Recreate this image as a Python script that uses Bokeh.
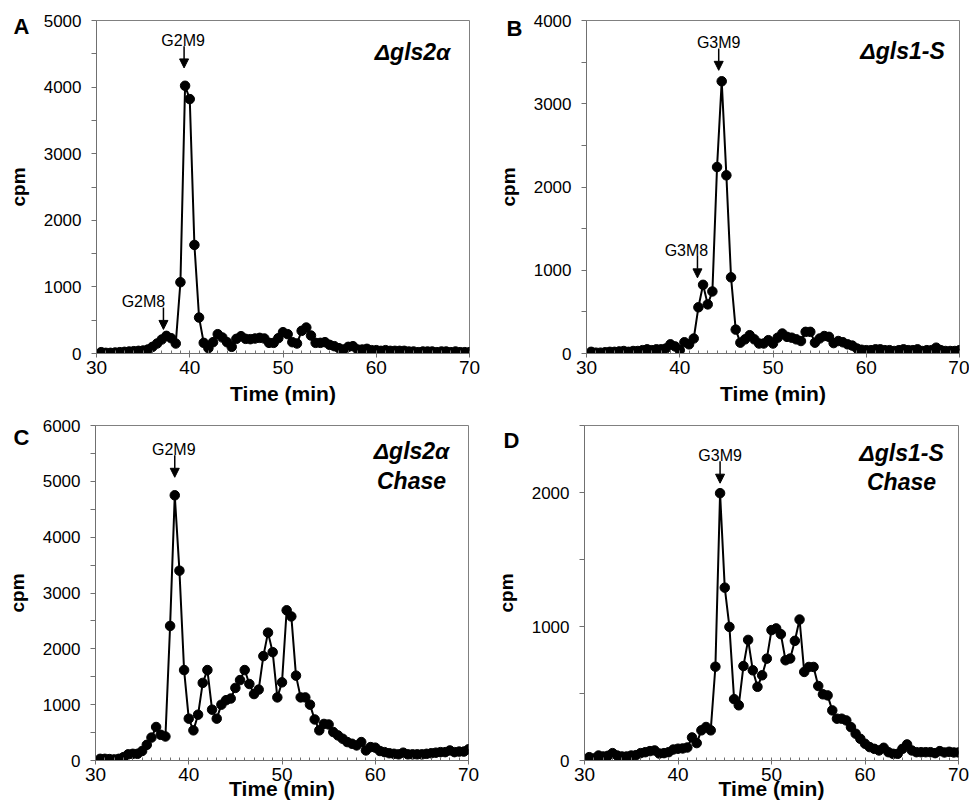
from bokeh.plotting import figure
from bokeh.layouts import column, row
from bokeh.models import Range1d, FixedTicker, Label, Arrow, NormalHead, ColumnDataSource
from bokeh.embed import file_html
from bokeh.resources import INLINE

# ---------------- data ----------------
time_min = [
    30.5, 31.0, 31.5, 32.0, 32.5, 33.0, 33.5, 34.0, 34.5, 35.0,
    35.5, 36.0, 36.5, 37.0, 37.5, 38.0, 38.5, 39.0, 39.5, 40.0,
    40.5, 41.0, 41.5, 42.0, 42.5, 43.0, 43.5, 44.0, 44.5, 45.0,
    45.5, 46.0, 46.5, 47.0, 47.5, 48.0, 48.5, 49.0, 49.5, 50.0,
    50.5, 51.0, 51.5, 52.0, 52.5, 53.0, 53.5, 54.0, 54.5, 55.0,
    55.5, 56.0, 56.5, 57.0, 57.5, 58.0, 58.5, 59.0, 59.5, 60.0,
    60.5, 61.0, 61.5, 62.0, 62.5, 63.0, 63.5, 64.0, 64.5, 65.0,
    65.5, 66.0, 66.5, 67.0, 67.5, 68.0, 68.5, 69.0, 69.5, 70.0,
]

# A: delta-gls2alpha (pulse)
gls2a_pulse = [
    20, 10, 10, 15, 20, 25, 30, 35, 40, 45,
    60, 100, 150, 210, 265, 230, 150, 1070, 4020, 3820,
    1630, 540, 160, 80, 170, 290, 240, 170, 100, 220,
    260, 220, 215, 225, 235, 225, 160, 160, 230, 320,
    290, 170, 150, 340, 390, 270, 160, 160, 170, 130,
    110, 80, 60, 100, 110, 60, 60, 70, 50, 50,
    40, 50, 40, 40, 40, 40, 30, 30, 20, 30,
    30, 30, 20, 30, 30, 20, 30, 20, 20, 20,
]

# B: delta-gls1-S (pulse)
gls1s_pulse = [
    20, 10, 10, 15, 20, 20, 25, 30, 20, 30,
    30, 40, 50, 40, 50, 50, 60, 110, 85, 40,
    135, 110, 180, 555, 825, 590, 745, 2240, 3270, 2140,
    915, 287, 130, 170, 220, 170, 120, 120, 160, 120,
    190, 240, 200, 190, 170, 150, 260, 260, 130, 180,
    210, 200, 125, 150, 135, 110, 95, 60, 45, 40,
    40, 50, 50, 40, 40, 30, 40, 50, 40, 40,
    50, 30, 40, 40, 70, 40, 30, 30, 30, 40,
]

# C: delta-gls2alpha chase
gls2a_chase = [
    30, 30, 25, 20, 30, 60, 110, 120, 120, 170,
    280, 410, 600, 460, 430, 2410, 4750, 3400, 1620, 750,
    540, 820, 1390, 1620, 910, 750, 1000, 1080, 1110, 1300,
    1440, 1620, 1370, 1190, 1270, 1870, 2290, 1940, 1130, 1400,
    2690, 2580, 1520, 1130, 1130, 1000, 735, 540, 655, 645,
    510, 450, 390, 330, 300, 270, 330, 180, 240, 230,
    170, 150, 130, 120, 110, 140, 110, 110, 110, 110,
    120, 130, 140, 150, 150, 180, 150, 160, 160, 200,
]

# D: delta-gls1-S chase
gls1s_chase = [
    25, 15, 37, 30, 35, 55, 37, 30, 30, 37,
    40, 55, 62, 70, 75, 52, 55, 62, 82, 88,
    90, 97, 172, 130, 225, 250, 225, 700, 1995, 1290,
    997, 458, 412, 705, 900, 673, 550, 636, 760, 973,
    986, 943, 748, 761, 893, 1052, 661, 698, 698, 556,
    494, 486, 374, 312, 312, 299, 249, 200, 162, 125,
    100, 87, 75, 95, 62, 50, 50, 87, 120, 75,
    62, 62, 62, 62, 55, 70, 60, 65, 60, 60,
]

x_ticks = [30, 40, 50, 60, 70]
x_minor_ticks = list(range(30, 71))
y_ticks_A = [0, 1000, 2000, 3000, 4000, 5000]
y_ticks_B = [0, 1000, 2000, 3000, 4000]
y_ticks_C = [0, 1000, 2000, 3000, 4000, 5000, 6000]
y_ticks_D = [0, 1000, 2000]

FONT = "Liberation Sans"
GRAY = "#707070"


def make_panel(values, ymax, yticks, letter, strain_lines, annots,
               fw, fh, bl, br, bt, bb, letter_off, strain_base, xlabel_standoff):
    p = figure(width=fw, height=fh, x_range=Range1d(30, 70), y_range=Range1d(0, ymax),
               output_backend="svg", toolbar_location=None,
               min_border_left=bl, min_border_right=br, min_border_top=bt, min_border_bottom=bb,
               background_fill_color="white", border_fill_color="white",
               outline_line_color="#808080", outline_line_width=1)
    frame_w = fw - bl - br
    frame_h = fh - bt - bb
    ux = 40.0 / frame_w
    uy = ymax / frame_h
    p.grid.visible = False

    src = ColumnDataSource(dict(t=time_min, v=values))
    p.line("t", "v", source=src, line_color="black", line_width=2)
    p.scatter("t", "v", source=src, size=9.5, fill_color="black", line_color="black")

    xa = p.xaxis[0]
    xa.ticker = FixedTicker(ticks=x_ticks, minor_ticks=x_minor_ticks)
    xa.major_tick_in = 0
    xa.major_tick_out = 4
    xa.minor_tick_in = 3
    xa.minor_tick_out = 0
    xa.major_label_text_font = FONT
    xa.major_label_text_font_size = "19px"
    xa.major_label_text_color = "black"
    xa.major_label_standoff = 3
    xa.axis_line_color = GRAY
    xa.major_tick_line_color = GRAY
    xa.minor_tick_line_color = GRAY
    xa.axis_label = "Time (min)"
    xa.axis_label_text_font = FONT
    xa.axis_label_text_font_style = "bold"
    xa.axis_label_text_font_size = "21px"
    xa.axis_label_text_color = "black"
    xa.axis_label_standoff = xlabel_standoff

    minor_y = [v + 500 for v in yticks]
    ya = p.yaxis[0]
    ya.ticker = FixedTicker(ticks=yticks, minor_ticks=minor_y)
    ya.major_tick_in = 0
    ya.major_tick_out = 5
    ya.minor_tick_in = 0
    ya.minor_tick_out = 5
    ya.major_label_text_font = FONT
    ya.major_label_text_font_size = "17px"
    ya.major_label_text_color = "black"
    ya.major_label_standoff = 10
    ya.axis_line_color = GRAY
    ya.major_tick_line_color = GRAY
    ya.minor_tick_line_color = GRAY
    ya.axis_label = "cpm"
    ya.axis_label_text_font = FONT
    ya.axis_label_text_font_style = "bold"
    ya.axis_label_text_font_size = "19px"
    ya.axis_label_text_color = "black"
    ya.axis_label_standoff = 12

    # panel letter as the figure title, pulled into the top-left corner
    p.title.text = letter
    p.title.align = "left"
    p.title.offset = letter_off[0]
    p.title.standoff = -2 * letter_off[1]
    p.title.text_font = FONT
    p.title.text_font_style = "bold"
    p.title.text_font_size = "22px"
    p.title.text_color = "black"

    # strain label
    for line_text, base in zip(strain_lines, strain_base):
        p.add_layout(Label(x=70 - 57 * ux, y=ymax - base * uy, text=line_text,
                           text_font=FONT, text_font_style="bold italic", text_font_size="23px",
                           text_align="center", text_baseline="alphabetic", text_color="black"))

    # peak annotations
    for name, t_pt, gap, arrow_dx, text_dx in annots:
        v = values[time_min.index(t_pt)]
        ax = t_pt + arrow_dx * ux
        tip = v + gap * uy
        tail = tip + 22 * uy
        p.add_layout(Arrow(end=NormalHead(size=9, fill_color="black", line_color="black", line_width=1),
                           x_start=ax, y_start=tail, x_end=ax, y_end=tip,
                           line_color="black", line_width=1.5))
        p.add_layout(Label(x=ax + text_dx * ux, y=tail + 6 * uy, text=name,
                           text_font=FONT, text_font_size="16px",
                           text_align="center", text_baseline="alphabetic", text_color="black"))
    return p


pA = make_panel(gls2a_pulse, 5000, y_ticks_A, "A", ["\u0394gls2\u03b1"],
                [("G2M9", 39.5, 18, -1, -1), ("G2M8", 37.5, 6.5, -3, -20)],
                485, 408, 96, 16, 20, 52, (-83, 18), [31.7], 5)
pB = make_panel(gls1s_pulse, 4000, y_ticks_B, "B", ["\u0394gls1-S"],
                [("G3M9", 44.5, 11, -3, 0), ("G3M8", 42.5, 7, -5.6, -11)],
                484, 408, 101, 10, 18, 55, (-80, 20), [31], 5)
pC = make_panel(gls2a_chase, 6000, y_ticks_C, "C", ["\u0394gls2\u03b1", "Chase"],
                [("G2M9", 38.5, 18, 0, -1)],
                485, 399, 95, 17, 17, 47, (-82, 24), [25.7, 55], -7)
pD = make_panel(gls1s_chase, 2500, y_ticks_D, "D", ["\u0394gls1-S", "Chase"],
                [("G3M9", 44.5, 10, 0, 0)],
                484, 399, 99, 11, 16, 47, (-81, 27), [27.7, 57], -7)

layout = column(row(pA, pB, spacing=0), row(pC, pD, spacing=0), spacing=0)

open("out.html", "w").write(file_html(layout, INLINE))
